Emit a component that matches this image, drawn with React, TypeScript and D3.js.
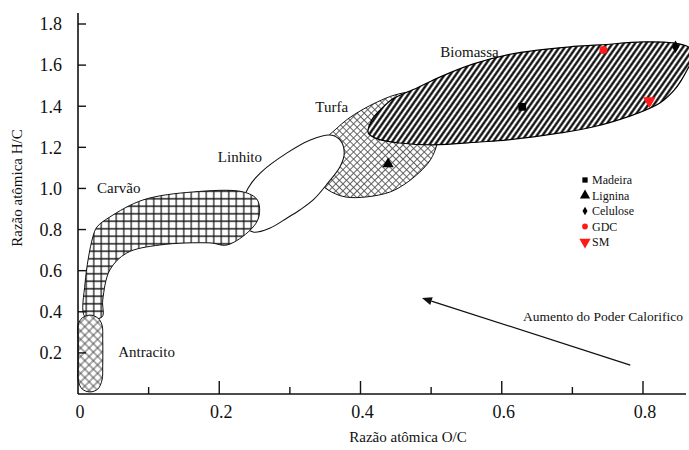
import React from 'react';
import * as d3 from 'd3';

type Pt = [number, number];

// Axis ticks
const xMajorTicks = [0, 0.2, 0.4, 0.6, 0.8];
const xMinorTicks = [0.1, 0.3, 0.5, 0.7];
const yTicks = [0.2, 0.4, 0.6, 0.8, 1.0, 1.2, 1.4, 1.6, 1.8];

// Regions (O/C, H/C)
const antracito: Pt[] = [
  [0.017, 0.01], [0.028, 0.024], [0.034, 0.068], [0.035, 0.141], [0.035, 0.263],
  [0.034, 0.336], [0.028, 0.37], [0.017, 0.384], [0.006, 0.37], [0.0, 0.336],
  [0.0, 0.263], [0.0, 0.141], [0.0, 0.068], [0.006, 0.024],
];
const carvao: Pt[] = [
  [0.01, 0.375], [0.01, 0.54], [0.021, 0.764], [0.027, 0.813], [0.045, 0.861],
  [0.092, 0.944], [0.163, 0.983], [0.234, 0.983], [0.254, 0.944], [0.256, 0.861],
  [0.244, 0.798], [0.211, 0.725], [0.187, 0.735], [0.116, 0.725], [0.069, 0.686],
  [0.045, 0.603], [0.035, 0.457], [0.034, 0.375],
];
const linhito: Pt[] = [
  [0.232, 0.92], [0.241, 1.002], [0.258, 1.075], [0.296, 1.173], [0.329, 1.236],
  [0.357, 1.26], [0.371, 1.236], [0.377, 1.173], [0.371, 1.105], [0.354, 1.027],
  [0.333, 0.944], [0.314, 0.895], [0.296, 0.856], [0.272, 0.808], [0.248, 0.788],
  [0.235, 0.827],
];
const turfa: Pt[] = [
  [0.34, 1.114], [0.35, 1.236], [0.364, 1.285], [0.382, 1.338], [0.402, 1.382],
  [0.424, 1.421], [0.449, 1.455], [0.477, 1.47], [0.501, 1.44], [0.513, 1.343],
  [0.508, 1.212], [0.499, 1.139], [0.484, 1.08], [0.463, 1.022], [0.442, 0.983],
  [0.409, 0.959], [0.378, 0.959], [0.354, 0.993], [0.34, 1.041],
];
const biomassa: Pt[] = [
  [0.411, 1.27], [0.416, 1.333], [0.428, 1.382], [0.446, 1.436], [0.48, 1.489],
  [0.513, 1.543], [0.56, 1.606], [0.608, 1.65], [0.654, 1.674], [0.697, 1.689],
  [0.739, 1.698], [0.8, 1.713], [0.843, 1.708], [0.864, 1.689], [0.873, 1.65],
  [0.864, 1.586], [0.848, 1.494], [0.824, 1.416], [0.778, 1.348], [0.729, 1.299],
  [0.683, 1.27], [0.608, 1.236], [0.569, 1.226], [0.503, 1.212], [0.456, 1.221],
  [0.424, 1.241],
];

// Samples
const sampleNames = ['Madeira', 'Lignina', 'Celulose', 'GDC', 'SM'];
const sampleOC = [0.629, 0.439, 0.846, 0.744, 0.809];
const sampleHC = [1.397, 1.119, 1.689, 1.674, 1.426];
const sampleColors = ['#000', '#000', '#000', '#ff1a1a', '#ff1a1a'];

// Region labels
const regionNames = ['Carvão', 'Linhito', 'Turfa', 'Biomassa', 'Antracito'];
const regionLabelOC = [0.027, 0.198, 0.336, 0.513, 0.057];
const regionLabelHC = [0.978, 1.129, 1.372, 1.64, 0.18];

// Arrow
const arrowFrom: Pt = [0.782, 0.141];
const arrowTo: Pt = [0.487, 0.467];
const arrowText = 'Aumento do Poder Calorifico';
const arrowTextAt: Pt = [0.63, 0.355];

const FONT = "'Liberation Serif', 'Times New Roman', serif";

function symbolPath(i: number, size: number) {
  const types = [d3.symbolSquare, d3.symbolTriangle, d3.symbolDiamond, d3.symbolCircle, d3.symbolTriangle];
  return d3.symbol().type(types[i]).size(size)() as string;
}

export default function App() {
  const W = 689, H = 450;
  const x = d3.scaleLinear().domain([0, 0.8]).range([78, 643]);
  const y = d3.scaleLinear().domain([0, 1.8]).range([394, 24]);
  const xEnd = x.invert(686);
  const yTop = y.invert(13);

  const area = d3.line<Pt>().x(d => x(d[0])).y(d => y(d[1])).curve(d3.curveCatmullRomClosed.alpha(0.5));

  const markerSizes = [60, 55, 45, 50, 70];
  const legendSizes = [28, 45, 22, 26, 55];

  const ax1 = x(arrowFrom[0]), ay1 = y(arrowFrom[1]), ax2 = x(arrowTo[0]), ay2 = y(arrowTo[1]);
  const ang = Math.atan2(ay2 - ay1, ax2 - ax1);
  const hl = 10, hw = 4;
  const bx = ax2 - hl * Math.cos(ang), by = ay2 - hl * Math.sin(ang);
  const head = `M${ax2},${ay2} L${bx + hw * Math.sin(ang)},${by - hw * Math.cos(ang)} L${bx - hw * Math.sin(ang)},${by + hw * Math.cos(ang)} Z`;

  return (
    <svg width={W} height={H} style={{ position: 'absolute', left: 0, top: 0, background: '#fff' }} fontFamily={FONT}>
      <defs>
        <pattern id="grid" patternUnits="userSpaceOnUse" width={7.5} height={7.5}>
          <rect width={7.5} height={7.5} fill="#fff" />
          <path d="M0 3.75 H7.5 M3.75 0 V7.5" stroke="#111" strokeWidth={1.2} />
        </pattern>
        <pattern id="xhatch" patternUnits="userSpaceOnUse" width={5} height={5} patternTransform="rotate(45)">
          <rect width={5} height={5} fill="#fff" />
          <path d="M0 2.5 H5 M2.5 0 V5" stroke="#555" strokeWidth={0.9} />
        </pattern>
        <pattern id="xhatch2" patternUnits="userSpaceOnUse" width={6} height={6} patternTransform="rotate(45)">
          <rect width={6} height={6} fill="#fff" />
          <path d="M0 3 H6 M3 0 V6" stroke="#444" strokeWidth={0.9} />
        </pattern>
        <pattern id="stripes" patternUnits="userSpaceOnUse" width={4.6} height={10} patternTransform="rotate(35)">
          <rect width={4.6} height={10} fill="#fff" />
          <line x1={2.3} y1={0} x2={2.3} y2={10} stroke="#000" strokeWidth={2.2} />
        </pattern>
      </defs>

      {/* regions */}
      <path d={area(turfa) as string} fill="url(#xhatch)" stroke="#111" strokeWidth={1} />
      <path d={area(biomassa) as string} fill="url(#stripes)" stroke="#000" strokeWidth={1.2} />
      <path d={area(linhito) as string} fill="#fff" stroke="#111" strokeWidth={1.1} />
      <path d={area(carvao) as string} fill="url(#grid)" stroke="#111" strokeWidth={1} />
      <path d={area(antracito) as string} fill="url(#xhatch2)" stroke="#111" strokeWidth={1} />

      {/* region labels */}
      {regionNames.map((n, i) => (
        <text key={n} x={x(regionLabelOC[i])} y={y(regionLabelHC[i])} fontSize={15} fill="#111">{n}</text>
      ))}

      {/* samples */}
      {sampleNames.map((n, i) => (
        <path key={n} d={symbolPath(i, markerSizes[i])} fill={sampleColors[i]}
          transform={`translate(${x(sampleOC[i])},${y(sampleHC[i])})${i === 4 ? ' rotate(180)' : ''}`} />
      ))}

      {/* legend */}
      {sampleNames.map((n, i) => (
        <g key={n} transform={`translate(585,${180 + i * 15.5})`}>
          <path d={symbolPath(i, legendSizes[i])} fill={sampleColors[i]} transform={i === 4 ? 'rotate(180)' : ''} />
          <text x={7} y={4} fontSize={12} fill="#111">{n}</text>
        </g>
      ))}

      {/* arrow */}
      <line x1={ax1} y1={ay1} x2={bx} y2={by} stroke="#111" strokeWidth={1.3} />
      <path d={head} fill="#111" />
      <text x={x(arrowTextAt[0])} y={y(arrowTextAt[1])} fontSize={13.5} fill="#111">{arrowText}</text>

      {/* axes */}
      <line x1={x(0)} y1={y(yTop)} x2={x(0)} y2={y(0)} stroke="#111" strokeWidth={1.6} />
      <line x1={x(0)} y1={y(0)} x2={x(xEnd)} y2={y(0)} stroke="#111" strokeWidth={1.6} />
      {yTicks.map(t => (
        <g key={t}>
          <line x1={x(0)} x2={x(0) + 8} y1={y(t)} y2={y(t)} stroke="#111" strokeWidth={1.4} />
          <text x={62} y={y(t)} dy="0.35em" textAnchor="end" fontSize={18} fill="#111">{t.toFixed(1)}</text>
        </g>
      ))}
      {xMajorTicks.filter(t => t > 0).map(t => (
        <line key={t} x1={x(t)} x2={x(t)} y1={y(0)} y2={y(0) - 13} stroke="#111" strokeWidth={1.4} />
      ))}
      {xMinorTicks.map(t => (
        <line key={t} x1={x(t)} x2={x(t)} y1={y(0)} y2={y(0) - 7} stroke="#111" strokeWidth={1.4} />
      ))}
      {xMajorTicks.map(t => (
        <text key={t} x={x(t) + 2} y={418} textAnchor="middle" fontSize={18} fill="#111">{t === 0 ? '0' : t.toFixed(1)}</text>
      ))}
      <text x={408} y={442} textAnchor="middle" fontSize={15} fill="#111">Razão atômica O/C</text>
      <text transform="translate(22,188) rotate(-90)" textAnchor="middle" fontSize={15} fill="#111">Razão atômica H/C</text>
    </svg>
  );
}
